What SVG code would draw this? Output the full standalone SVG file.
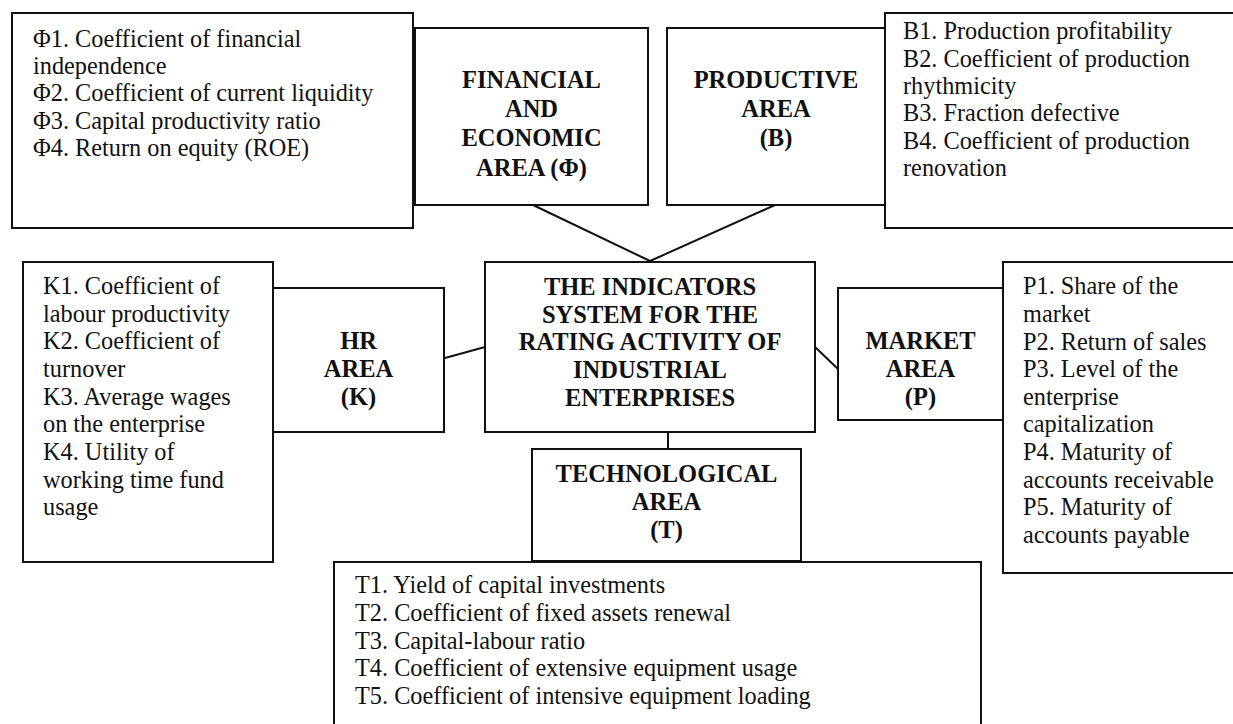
<svg xmlns="http://www.w3.org/2000/svg" width="1233" height="724" viewBox="0 0 1233 724">
<style>
.box{fill:#fff;stroke:#111;stroke-width:2}
.con line{stroke:#111;stroke-width:2}
.t{font-family:"Liberation Serif","Times New Roman",serif;font-size:24.3px;fill:#111}
.b{font-family:"Liberation Serif","Times New Roman",serif;font-size:24.5px;font-weight:bold;fill:#111;text-anchor:middle}
</style>
<rect width="1233" height="724" fill="#fff"/>
<g id="connectors" class="con">
<line x1="533" y1="205" x2="650" y2="261"/>
<line x1="775" y1="205" x2="650" y2="261"/>
<line x1="445" y1="358" x2="485" y2="347"/>
<line x1="815" y1="347" x2="838" y2="369"/>
<line x1="668" y1="432" x2="668" y2="449"/>
</g>
<g id="fin-list">
<rect class="box" x="12" y="13" width="401" height="215"/>
<text class="t" x="33"><tspan x="33" y="46.5">Φ1. Coefficient of financial</tspan><tspan x="33" y="73.5">independence</tspan><tspan x="33" y="101">Φ2. Coefficient of current liquidity</tspan><tspan x="33" y="128.5">Φ3. Capital productivity ratio</tspan><tspan x="33" y="156">Φ4. Return on equity (ROE)</tspan></text>
</g>
<g id="fin-area">
<rect class="box" x="415" y="28" width="233" height="177"/>
<text class="b"><tspan x="531.5" y="88">FINANCIAL</tspan><tspan x="531.5" y="117">AND</tspan><tspan x="531.5" y="146">ECONOMIC</tspan><tspan x="531.5" y="176">AREA (Φ)</tspan></text>
</g>
<g id="prod-area">
<rect class="box" x="667" y="28" width="218" height="177"/>
<text class="b"><tspan x="776" y="88">PRODUCTIVE</tspan><tspan x="776" y="117">AREA</tspan><tspan x="776" y="146">(B)</tspan></text>
</g>
<g id="prod-list">
<rect class="box" x="885" y="13" width="360" height="215"/>
<text class="t"><tspan x="903" y="39">B1. Production profitability</tspan><tspan x="903" y="66.5">B2. Coefficient of production</tspan><tspan x="903" y="93.5">rhythmicity</tspan><tspan x="903" y="121">B3. Fraction defective</tspan><tspan x="903" y="148.5">B4. Coefficient of production</tspan><tspan x="903" y="176">renovation</tspan></text>
</g>
<g id="hr-list">
<rect class="box" x="23" y="262" width="250" height="300"/>
<text class="t"><tspan x="43" y="294">K1. Coefficient of</tspan><tspan x="43" y="321.5">labour productivity</tspan><tspan x="43" y="349">K2. Coefficient of</tspan><tspan x="43" y="376.5">turnover</tspan><tspan x="43" y="404.5">K3. Average wages</tspan><tspan x="43" y="432">on the enterprise</tspan><tspan x="43" y="459.5">K4. Utility of</tspan><tspan x="43" y="487.5">working time fund</tspan><tspan x="43" y="515">usage</tspan></text>
</g>
<g id="hr-area">
<rect class="box" x="273" y="288" width="171" height="144"/>
<text class="b"><tspan x="358.5" y="349">HR</tspan><tspan x="358.5" y="377">AREA</tspan><tspan x="358.5" y="405">(K)</tspan></text>
</g>
<g id="center">
<rect class="box" x="485" y="262" width="330" height="170"/>
<text class="b"><tspan x="650" y="295">THE INDICATORS</tspan><tspan x="650" y="322.5">SYSTEM FOR THE</tspan><tspan x="650" y="350">RATING ACTIVITY OF</tspan><tspan x="650" y="378">INDUSTRIAL</tspan><tspan x="650" y="405.5">ENTERPRISES</tspan></text>
</g>
<g id="market-area">
<rect class="box" x="838" y="288" width="165" height="132"/>
<text class="b"><tspan x="920.5" y="349">MARKET</tspan><tspan x="920.5" y="377">AREA</tspan><tspan x="920.5" y="405">(P)</tspan></text>
</g>
<g id="market-list">
<rect class="box" x="1003" y="262" width="245" height="311"/>
<text class="t"><tspan x="1023" y="294">P1. Share of the</tspan><tspan x="1023" y="321.5">market</tspan><tspan x="1023" y="349.5">P2. Return of sales</tspan><tspan x="1023" y="377">P3. Level of the</tspan><tspan x="1023" y="404.5">enterprise</tspan><tspan x="1023" y="432">capitalization</tspan><tspan x="1023" y="460">P4. Maturity of</tspan><tspan x="1023" y="487.5">accounts receivable</tspan><tspan x="1023" y="515">P5. Maturity of</tspan><tspan x="1023" y="542.5">accounts payable</tspan></text>
</g>
<g id="tech-area">
<rect class="box" x="532" y="449" width="269" height="112"/>
<text class="b"><tspan x="666.5" y="482">TECHNOLOGICAL</tspan><tspan x="666.5" y="510">AREA</tspan><tspan x="666.5" y="538">(T)</tspan></text>
</g>
<g id="tech-list">
<rect class="box" x="334" y="562" width="647" height="180"/>
<text class="t"><tspan x="355" y="593">T1. Yield of capital investments</tspan><tspan x="355" y="621">T2. Coefficient of fixed assets renewal</tspan><tspan x="355" y="648.5">T3. Capital-labour ratio</tspan><tspan x="355" y="676">T4. Coefficient of extensive equipment usage</tspan><tspan x="355" y="704">T5. Coefficient of intensive equipment loading</tspan></text>
</g>
</svg>
